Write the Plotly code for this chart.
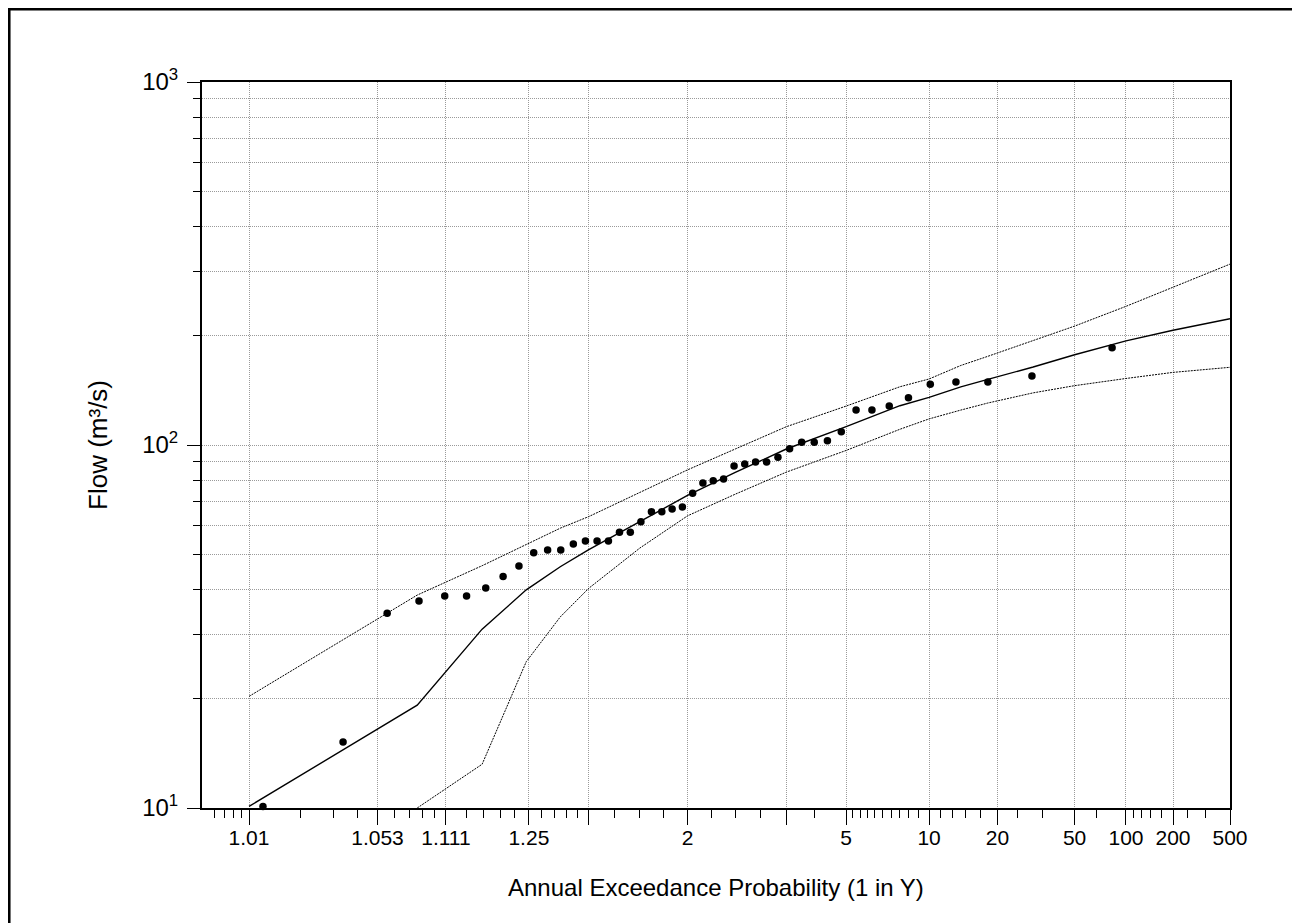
import math
import plotly.graph_objects as go

# ---------------- data ----------------
# Observed annual maxima: plotting position as "1 in Y" and flow (m3/s)
obs_one_in_y = [1.0123, 1.0350, 1.0588, 1.0836, 1.1097, 1.1371, 1.1658, 1.1961,
                1.2279, 1.2615, 1.2970, 1.3345, 1.3743, 1.4165, 1.4613, 1.5092,
                1.5602, 1.6149, 1.6734, 1.7364, 1.8044, 1.8778, 1.9576, 2.0444,
                2.1391, 2.2432, 2.3579, 2.4849, 2.6264, 2.7850, 2.9640, 3.1676,
                3.4012, 3.6719, 3.9896, 4.3674, 4.8243, 5.3879, 6.1006, 7.0305,
                8.2950, 10.114, 12.955, 18.016, 29.564, 82.357]
obs_flow = [10.1, 15.2, 34.4, 37.2, 38.4, 38.4, 40.4, 43.4,
            46.4, 50.5, 51.4, 51.4, 53.4, 54.4, 54.4, 54.4,
            57.5, 57.5, 61.5, 65.5, 65.5, 66.6, 67.5, 73.6,
            78.6, 79.7, 80.6, 87.5, 88.6, 89.8, 89.8, 92.5,
            97.7, 101.7, 101.7, 102.8, 108.8, 124.9, 124.9, 128.1,
            135.0, 146.9, 149.1, 149.1, 154.9, 185.3]

# Fitted quantile curve and confidence limits
curve_one_in_y = [1.0101, 1.082, 1.160, 1.244, 1.333, 1.429, 1.667, 2.0, 2.5,
                  3.333, 5.0, 7.7, 10.0, 13.6, 18.0, 30.0, 50.0, 100.0, 200.0, 500.0]
fit_flow = [10.1, 19.2, 31.1, 39.9, 46.2, 51.5, 61.5, 72.6, 84.0,
            97.5, 112.3, 128.3, 135.3, 144.6, 151.7, 164.0, 177.3, 193.6, 207.0, 222.8]
upper_flow = [20.3, 38.6, 46.5, 53.2, 59.0, 63.5, 73.9, 85.4, 97.5,
              112.3, 128.0, 144.7, 152.0, 165.6, 175.5, 194.0, 212.6, 241.0, 272.0, 315.0]
lower_one_in_y = [1.082, 1.160, 1.244, 1.333, 1.429, 1.667, 2.0, 2.5,
                  3.333, 5.0, 7.7, 10.0, 13.6, 18.0, 30.0, 50.0, 100.0, 200.0, 500.0]
lower_flow = [10.0, 13.2, 25.3, 33.6, 40.3, 52.0, 63.8, 73.2,
              84.2, 96.6, 110.5, 118.0, 124.8, 130.5, 139.2, 145.7, 152.5, 158.5, 163.7]

# Axis ticks
x_tick_aep = [0.99, 0.95, 0.90, 0.80, 0.70, 0.50, 0.30, 0.20, 0.10, 0.05, 0.02, 0.01, 0.005, 0.002]
x_tick_labels = ["1.01", "1.053", "1.111", "1.25", "", "2", "", "5", "10", "20", "50", "100", "200", "500"]
x_minor_aep = [0.994, 0.993, 0.992, 0.991, 0.98, 0.97, 0.96, 0.94, 0.93, 0.92, 0.91,
               0.88, 0.86, 0.84, 0.82, 0.78, 0.76, 0.74, 0.72, 0.65, 0.60, 0.55,
               0.45, 0.40, 0.35, 0.25, 0.19, 0.18, 0.17, 0.16, 0.15, 0.14, 0.13,
               0.12, 0.11, 0.09, 0.08, 0.07, 0.06, 0.04, 0.03, 0.015, 0.009,
               0.008, 0.007, 0.006, 0.004, 0.003]
x_range_aep = [0.995, 0.002]

y_tick_vals = [10, 100, 1000]
y_tick_text = ["10<sup>1</sup>", "10<sup>2</sup>", "10<sup>3</sup>"]
y_minor_vals = [20, 30, 40, 50, 60, 70, 80, 90, 200, 300, 400, 500, 600, 700, 800, 900]


# ---------------- normal probability scale ----------------
def norm_ppf(p):
    a = [-3.969683028665376e+01, 2.209460984245205e+02, -2.759285104469687e+02,
         1.383577518672690e+02, -3.066479806614716e+01, 2.506628277459239e+00]
    b = [-5.447609879822406e+01, 1.615858368580409e+02, -1.556989798598866e+02,
         6.680131188771972e+01, -1.328068155288572e+01]
    c = [-7.784894002430293e-03, -3.223964580411365e-01, -2.400758277161838e+00,
         -2.549732539343734e+00, 4.374664141464968e+00, 2.938163982698783e+00]
    d = [7.784695709041462e-03, 3.224671290700398e-01, 2.445134137142996e+00,
         3.754408661907416e+00]
    plow = 0.02425
    if p < plow:
        q = math.sqrt(-2 * math.log(p))
        return (((((c[0]*q+c[1])*q+c[2])*q+c[3])*q+c[4])*q+c[5]) / \
               ((((d[0]*q+d[1])*q+d[2])*q+d[3])*q+1)
    if p > 1 - plow:
        q = math.sqrt(-2 * math.log(1 - p))
        return -(((((c[0]*q+c[1])*q+c[2])*q+c[3])*q+c[4])*q+c[5]) / \
                ((((d[0]*q+d[1])*q+d[2])*q+d[3])*q+1)
    q = p - 0.5
    r = q * q
    return (((((a[0]*r+a[1])*r+a[2])*r+a[3])*r+a[4])*r+a[5])*q / \
           (((((b[0]*r+b[1])*r+b[2])*r+b[3])*r+b[4])*r+1)


def z_from_aep(aep):
    return norm_ppf(1.0 - aep)


def z_from_one_in_y(y):
    return z_from_aep(1.0 / y)


# ---------------- figure ----------------
fig = go.Figure()

band_line = dict(color="black", width=1, dash="2px,1px")

fig.add_trace(go.Scatter(
    x=[z_from_one_in_y(v) for v in curve_one_in_y], y=upper_flow,
    mode="lines", line=band_line, showlegend=False, hoverinfo="skip"))
fig.add_trace(go.Scatter(
    x=[z_from_one_in_y(v) for v in lower_one_in_y], y=lower_flow,
    mode="lines", line=band_line, showlegend=False, hoverinfo="skip"))
fig.add_trace(go.Scatter(
    x=[z_from_one_in_y(v) for v in curve_one_in_y], y=fit_flow,
    mode="lines", line=dict(color="black", width=1.4), showlegend=False))
fig.add_trace(go.Scatter(
    x=[z_from_one_in_y(v) for v in obs_one_in_y], y=obs_flow,
    mode="markers", marker=dict(color="black", size=7.5, line=dict(width=0)),
    cliponaxis=False, showlegend=False))

tick_font = dict(family="Liberation Sans Narrow, Arial Narrow, Liberation Sans, Arial, sans-serif",
                 size=21, color="black")
grid_color = "#9a9a9a"

fig.update_xaxes(
    range=[z_from_aep(x_range_aep[0]), z_from_aep(x_range_aep[1])],
    tickmode="array",
    tickvals=[z_from_aep(a) for a in x_tick_aep],
    ticktext=x_tick_labels,
    ticks="outside", ticklen=15, tickwidth=1, tickcolor="black",
    tickfont=tick_font, ticklabelstandoff=-5,
    showgrid=True, gridcolor=grid_color, gridwidth=1, griddash="1px,1px",
    showline=True, linecolor="black", linewidth=2, mirror=True,
    zeroline=False,
    minor=dict(tickmode="array", tickvals=[z_from_aep(a) for a in x_minor_aep],
               ticks="outside", ticklen=8, tickwidth=1, tickcolor="black",
               showgrid=False),
)

fig.update_yaxes(
    type="log", range=[1, 3],
    tickmode="array", tickvals=y_tick_vals, ticktext=y_tick_text,
    ticks="outside", ticklen=13, tickwidth=1, tickcolor="black",
    tickfont=dict(family="Liberation Sans Narrow, Arial Narrow, Liberation Sans, Arial, sans-serif",
                  size=24, color="black"),
    ticklabelstandoff=4,
    showgrid=True, gridcolor=grid_color, gridwidth=1, griddash="1px,1px",
    showline=True, linecolor="black", linewidth=2, mirror=True,
    zeroline=False,
    minor=dict(tickmode="array", tickvals=y_minor_vals,
               ticks="outside", ticklen=7, tickwidth=1, tickcolor="black",
               showgrid=True, gridcolor=grid_color, gridwidth=1, griddash="1px,1px"),
)

fig.update_layout(
    width=1292, height=915,
    margin=dict(l=194, r=70, t=74, b=115),
    paper_bgcolor="white", plot_bgcolor="white",
    showlegend=False,
    annotations=[
        dict(text="Annual Exceedance Probability (1 in Y)", xref="paper", yref="paper",
             x=0.5, y=-0.109, xanchor="center", yanchor="middle", showarrow=False,
             font=dict(family="Liberation Sans, Arial, sans-serif", size=24, color="black")),
        dict(text="Flow (m³/s)", xref="paper", yref="paper",
             x=-0.1012, y=0.5, xanchor="center", yanchor="middle", showarrow=False,
             textangle=-90,
             font=dict(family="Liberation Sans, Arial, sans-serif", size=26, color="black")),
    ],
    shapes=[
        dict(type="rect", xref="paper", yref="paper",
             x0=-0.1877, x1=1.0632, y0=-0.2, y1=1.1006,
             line=dict(color="black", width=3), fillcolor="rgba(0,0,0,0)", layer="above"),
    ],
)

fig.write_html("out.html")
